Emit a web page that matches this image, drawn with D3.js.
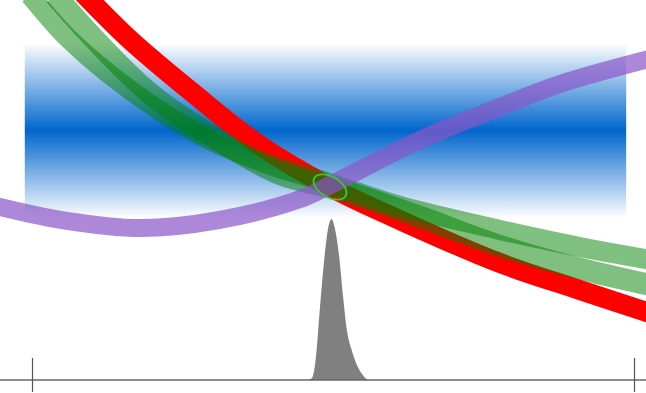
<!DOCTYPE html>
<html>
<head>
<meta charset="utf-8">
<script src="https://cdn.jsdelivr.net/npm/d3@7"></script>
<style>
  body { margin: 0; background: #fff; }
  svg { display: block; }
</style>
</head>
<body>
<div id="chart"></div>
<script>
// chart size
const width = 646,
  height = 393;

// data (x in 0..100 units between the two ticks, y in 0..100 units above the axis)
const tickValues = [0, 100];

const bandX = [-1.2, 98.7];
const bandY = [42.6, 88.7];

const purpleX = [-6, 5, 18, 31, 44.5, 49.5, 54.5, 64.5, 77.7, 87.7, 103];
const purpleY = [45.8, 42.1, 40, 42.1, 47.6, 51.3, 55.3, 63.2, 71.8, 77.9, 84.7];

const redX = [8.3, 16.3, 26.9, 37.5, 49.5, 61.1, 77.7, 91.0, 102.7];
const redY = [102.1, 89.5, 75.3, 62.1, 50.8, 42.1, 30.8, 23.7, 17.6];

const greenAX = [-0.3, 6.3, 16.3, 27.9, 38.7, 49.5, 61.1, 77.7, 91.0, 102.7];
const greenAY = [101.3, 89.5, 76.3, 64.5, 57.1, 51.8, 45.8, 39.5, 35.0, 31.6];

const greenBX = [3.8, 10.5, 19.9, 30.9, 41.2, 51.2, 64.5, 77.7, 91.0, 102.7];
const greenBY = [101.3, 89.5, 75.0, 63.2, 54.2, 50.0, 42.9, 35.3, 29.3, 25.0];

const peakX = [45.9, 46.5, 47.2, 47.8, 48.5, 49.2, 49.75, 50.3, 51.0, 51.7, 52.3, 53.2, 54.2, 55.2, 55.8];
const peakY = [0, 0.5, 6.6, 18.4, 31, 40, 42.4, 40, 32.9, 21.6, 13.2, 7.4, 3.2, 0.8, 0];

// ellipse: centre and half-axes in data units
const ellipseC = [49.5, 50.8];
const ellipseR = [3.0, 2.7];

const svg = d3
  .select("#chart")
  .append("svg")
  .attr("width", width)
  .attr("height", height);

const x = d3.scaleLinear().domain([0, 100]).range([32, 634]);
const y = d3.scaleLinear().domain([0, 100]).range([380, 0]);

// gradient for the blue band
const grad = svg
  .append("defs")
  .append("linearGradient")
  .attr("id", "band")
  .attr("x1", 0)
  .attr("y1", 0)
  .attr("x2", 0)
  .attr("y2", 1);
grad.append("stop").attr("offset", "0%").attr("stop-color", "#0066cc").attr("stop-opacity", 0);
grad.append("stop").attr("offset", "50%").attr("stop-color", "#0066cc").attr("stop-opacity", 1);
grad.append("stop").attr("offset", "100%").attr("stop-color", "#0066cc").attr("stop-opacity", 0);

svg
  .append("rect")
  .attr("x", x(bandX[0]))
  .attr("y", y(bandY[1]))
  .attr("width", x(bandX[1]) - x(bandX[0]))
  .attr("height", y(bandY[0]) - y(bandY[1]))
  .attr("fill", "url(#band)");

// gray peak
const peak = peakX.map((d, i) => [d, peakY[i]]);
svg
  .append("path")
  .datum(peak)
  .attr("fill", "#808080")
  .attr(
    "d",
    d3
      .area()
      .x((d) => x(d[0]))
      .y0(y(0))
      .y1((d) => y(d[1]))
      .curve(d3.curveMonotoneX),
  );

const line = d3
  .line()
  .x((d) => x(d[0]))
  .y((d) => y(d[1]))
  .curve(d3.curveCatmullRom);

function drawCurve(xs, ys, color, w, op) {
  svg
    .append("path")
    .datum(xs.map((d, i) => [d, ys[i]]))
    .attr("fill", "none")
    .attr("stroke", color)
    .attr("stroke-width", w)
    .attr("stroke-opacity", op)
    .attr("d", line);
}

drawCurve(redX, redY, "#ff0000", 20, 1);
drawCurve(greenAX, greenAY, "#008000", 20, 0.5);
drawCurve(greenBX, greenBY, "#008000", 22, 0.5);
drawCurve(purpleX, purpleY, "#8a55c8", 18, 0.7);

// ellipse at the crossing
const cx = x(ellipseC[0]),
  cy = y(ellipseC[1]);
svg
  .append("ellipse")
  .attr("cx", cx)
  .attr("cy", cy)
  .attr("rx", x(ellipseR[0]) - x(0))
  .attr("ry", y(0) - y(ellipseR[1]))
  .attr("transform", `rotate(30, ${cx}, ${cy})`)
  .attr("fill", "none")
  .attr("stroke", "#33cc33")
  .attr("stroke-width", 1.8);

// axis
svg
  .append("line")
  .attr("x1", 0)
  .attr("x2", width)
  .attr("y1", y(0))
  .attr("y2", y(0))
  .attr("stroke", "#666")
  .attr("stroke-width", 1.5);

const axis = svg
  .append("g")
  .attr("transform", `translate(0, ${y(0)})`)
  .call(d3.axisBottom(x).tickValues(tickValues).tickSize(12).tickSizeOuter(0).tickFormat(""));
axis.select(".domain").remove();
axis.selectAll(".tick line").attr("y1", -22).attr("stroke", "#555").attr("stroke-width", 1.2);
</script>
</body>
</html>
